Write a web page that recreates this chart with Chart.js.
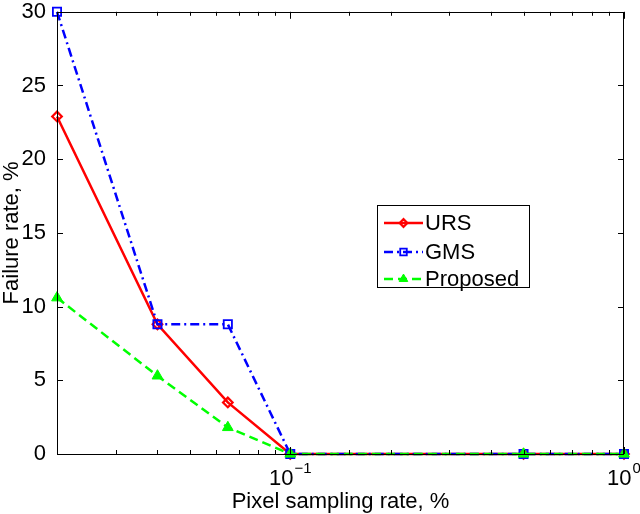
<!DOCTYPE html>
<html>
<head>
<meta charset="utf-8">
<script src="https://cdn.jsdelivr.net/npm/chart.js@4/dist/chart.umd.min.js"></script>
<style>
html,body{margin:0;padding:0;background:#fff;}
#wrap{width:640px;height:514px;}
</style>
</head>
<body>
<div id="wrap"><canvas id="c" width="640" height="514"></canvas></div>
<script>
// ---- data ----
const samplingRates = [0.02, 0.04, 0.065, 0.1, 0.5, 1];
const ursValues = [22.9, 8.8, 3.5, 0, 0, 0];
const gmsValues = [30, 8.8, 8.8, 0, 0, 0];
const proposedValues = [10.6, 5.3, 1.8, 0, 0, 0];
const seriesNames = ['URS', 'GMS', 'Proposed'];
const yTickValues = [0, 5, 10, 15, 20, 25, 30];
const xTickValues = [0.1, 1];
const xTickBases = ['10', '10'];
const xTickExponents = ['\u22121', '0'];
const xTitle = 'Pixel sampling rate, %';
const yTitle = 'Failure rate, %';

const FONT = '"Liberation Sans", Arial, Helvetica, sans-serif';
const toPts = (xs, ys) => xs.map((x, i) => ({x: x, y: ys[i]}));

function drawMarker(ctx, style, r, x, y) {
  ctx.beginPath();
  if (style === 'rectRot') {
    ctx.moveTo(x - r, y); ctx.lineTo(x, y - r); ctx.lineTo(x + r, y); ctx.lineTo(x, y + r); ctx.closePath();
  } else if (style === 'rect') {
    const s = Math.SQRT1_2 * r;
    ctx.rect(x - s, y - s, 2 * s, 2 * s);
  } else if (style === 'triangle') {
    const ang = [-Math.PI / 2, Math.PI / 6, 5 * Math.PI / 6];
    ang.forEach((t, k) => { const px = x + Math.cos(t) * r, py = y + Math.sin(t) * r; k ? ctx.lineTo(px, py) : ctx.moveTo(px, py); });
    ctx.closePath();
  }
  ctx.fill();
  ctx.stroke();
}

const frameAndLabels = {
  id: 'frameAndLabels',
  afterDraw(chart) {
    const ctx = chart.ctx;
    const a = chart.chartArea;
    const xs = chart.scales.x, ys = chart.scales.y;
    ctx.save();
    ctx.strokeStyle = '#000';
    ctx.lineWidth = 1;
    // frame
    ctx.strokeRect(Math.round(a.left) + 0.5, Math.round(a.top) + 0.5,
      Math.round(a.right) - Math.round(a.left) - 1, Math.round(a.bottom) - Math.round(a.top));
    // y ticks (inward, both sides)
    ctx.beginPath();
    yTickValues.forEach(v => {
      const py = Math.round(ys.getPixelForValue(v)) + 0.5;
      ctx.moveTo(a.left, py); ctx.lineTo(a.left + 6, py);
      ctx.moveTo(a.right, py); ctx.lineTo(a.right - 6, py);
    });
    // x ticks (log, inward, top and bottom)
    xs.ticks.forEach(t => {
      const v = t.value;
      const lg = Math.log10(v);
      const major = Math.abs(lg - Math.round(lg)) < 1e-9;
      const len = major ? 7 : 4;
      const px = Math.round(xs.getPixelForValue(v)) + 0.5;
      ctx.moveTo(px, a.bottom); ctx.lineTo(px, a.bottom - len);
      ctx.moveTo(px, a.top); ctx.lineTo(px, a.top + len);
    });
    ctx.stroke();
    // x tick labels with superscripts
    ctx.fillStyle = '#000';
    ctx.textBaseline = 'alphabetic';
    ctx.textAlign = 'left';
    xTickValues.forEach((v, i) => {
      const px = xs.getPixelForValue(v);
      ctx.font = '22px ' + FONT;
      const wb = ctx.measureText(xTickBases[i]).width;
      ctx.font = '15px ' + FONT;
      const we = ctx.measureText(xTickExponents[i]).width;
      const x0 = px - (wb + 1 + we) / 2;
      ctx.font = '22px ' + FONT;
      ctx.fillText(xTickBases[i], x0, a.bottom + 31);
      ctx.font = '15px ' + FONT;
      ctx.fillText(xTickExponents[i], x0 + wb + 1, a.bottom + 19);
    });
    // axis titles
    ctx.font = '22px ' + FONT;
    ctx.textAlign = 'center';
    ctx.fillText(xTitle, (a.left + a.right) / 2, 508);
    ctx.save();
    ctx.translate(18, (a.top + a.bottom) / 2);
    ctx.rotate(-Math.PI / 2);
    ctx.fillText(yTitle, 0, 0);
    ctx.restore();
    // legend
    const lx = 377, ly = 205, lw = 152, lh = 82;
    ctx.fillStyle = '#fff';
    ctx.fillRect(lx, ly, lw, lh);
    ctx.strokeStyle = '#000';
    ctx.lineWidth = 1;
    ctx.strokeRect(lx + 0.5, ly + 0.5, lw, lh);
    const rowY = [223, 252, 279];
    const legendMarkerScale = 0.8;
    chart.data.datasets.forEach((ds, i) => {
      const y = rowY[i];
      ctx.save();
      ctx.strokeStyle = ds.borderColor;
      ctx.lineWidth = ds.borderWidth;
      ctx.setLineDash(ds.borderDash || []);
      ctx.beginPath();
      ctx.moveTo(384, y); ctx.lineTo(423, y);
      ctx.stroke();
      ctx.restore();
      ctx.save();
      ctx.fillStyle = ds.pointBackgroundColor;
      ctx.strokeStyle = ds.pointBorderColor;
      ctx.lineWidth = ds.pointBorderWidth;
      ctx.setLineDash([]);
      drawMarker(ctx, ds.pointStyle, ds.pointRadius * legendMarkerScale, 403.5, y);
      ctx.restore();
      ctx.fillStyle = '#000';
      ctx.font = '22px ' + FONT;
      ctx.textAlign = 'left';
      ctx.textBaseline = 'middle';
      ctx.fillText(ds.label, 425, y + 1);
    });
    ctx.restore();
  }
};

const chart = new Chart(document.getElementById('c'), {
  type: 'line',
  data: {
    datasets: [
      {
        label: seriesNames[0], data: toPts(samplingRates, ursValues), order: 3,
        borderColor: '#ff0000', borderWidth: 2.5, borderDash: [],
        pointStyle: 'rectRot', pointRadius: 4.8, pointBorderWidth: 2.2,
        pointBorderColor: '#ff0000', pointBackgroundColor: 'rgba(0,0,0,0)', clip: false
      },
      {
        label: seriesNames[1], data: toPts(samplingRates, gmsValues), order: 2,
        borderColor: '#0000ff', borderWidth: 2.5, borderDash: [9, 4, 2, 4],
        pointStyle: 'rect', pointRadius: 5.8, pointBorderWidth: 1.8,
        pointBorderColor: '#0000ff', pointBackgroundColor: 'rgba(0,0,0,0)', clip: false
      },
      {
        label: seriesNames[2], data: toPts(samplingRates, proposedValues), order: 1,
        borderColor: '#00ff00', borderWidth: 2.5, borderDash: [9, 5],
        pointStyle: 'triangle', pointRadius: 6.2, pointBorderWidth: 1,
        pointBorderColor: '#00ff00', pointBackgroundColor: '#00ff00', clip: false
      }
    ]
  },
  options: {
    responsive: false,
    animation: false,
    devicePixelRatio: 1,
    layout: { padding: { left: 0, top: 10, right: 16, bottom: 0 } },
    plugins: { legend: { display: false }, tooltip: { enabled: false } },
    elements: { line: { tension: 0 } },
    scales: {
      x: {
        type: 'logarithmic', min: 0.02, max: 1,
        grid: { display: false }, border: { display: false },
        ticks: { display: false, autoSkip: false },
        afterFit(s) { s.height = 60; }
      },
      y: {
        type: 'linear', min: 0, max: 30,
        grid: { display: false }, border: { display: false },
        afterBuildTicks(s) { s.ticks = yTickValues.map(v => ({ value: v })); },
        ticks: { color: '#000', padding: 3, font: { family: FONT, size: 22, lineHeight: 0.8 } },
        afterFit(s) { s.width = 57; }
      }
    }
  },
  plugins: [frameAndLabels]
});
</script>
</body>
</html>
